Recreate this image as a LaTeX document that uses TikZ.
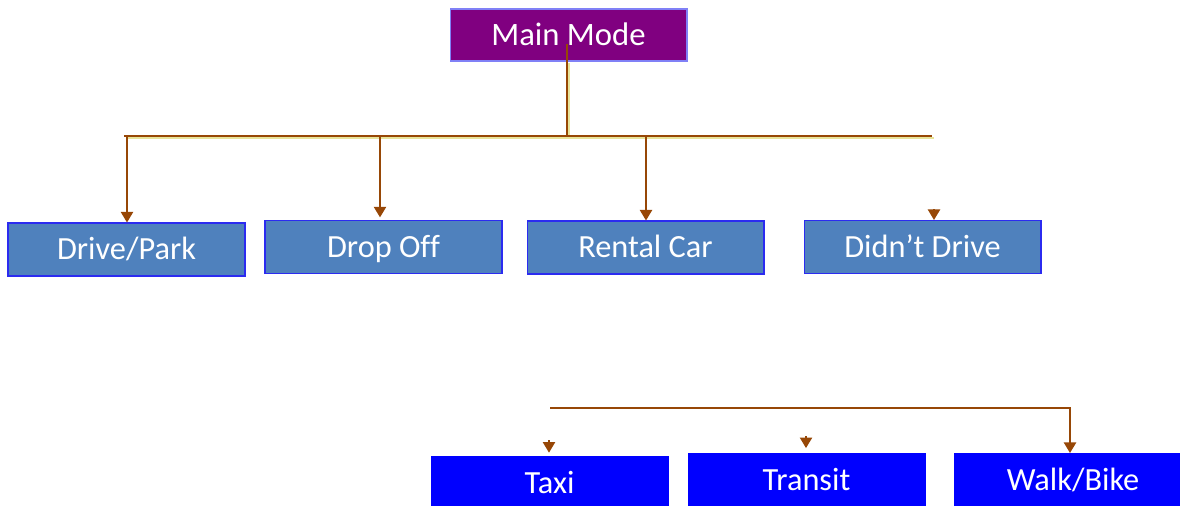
\documentclass[tikz,border=0pt]{standalone}
\usepackage{fontspec}
\setmainfont{Carlito}[Ligatures=NoCommon]
\usetikzlibrary{arrows.meta}
\definecolor{modepurple}{HTML}{800080}
\definecolor{modeblue}{HTML}{4F81BD}
\definecolor{modebright}{HTML}{0000FF}
\definecolor{modeedge}{HTML}{2B2BF0}
\definecolor{linkbrown}{HTML}{974706}
\definecolor{linkglow}{HTML}{E8E49A}

\begin{document}
\begin{tikzpicture}[x=0.02cm,y=-0.02cm,
    box/.style={rectangle,draw=modeedge,line width=0.6pt,text=white,
      minimum width=4.74cm,minimum height=1.06cm,inner sep=0pt,
      text height=11.8pt,text depth=0pt,
      font=\fontsize{18.4}{21}\selectfont},
    link/.style={draw=linkbrown,line width=0.8pt},
    linkarrow/.style={link,-{Triangle[length=6pt,width=7pt]}},
    glowline/.style={draw=linkglow,line width=1.4pt,
      transform canvas={xshift=1pt,yshift=-1pt}}]

  \useasboundingbox (0,0) rectangle (1180,505);

  % ---- Top node ---------------------------------------------
  \node[box,fill=modepurple,draw=modeedge!60,minimum height=1.04cm,
    font=\fontsize{18.6}{21}\selectfont] (main) at (568.5,35) {Main Mode};

  % ---- First level --------------------------------------------
  \node[box,fill=modeblue] (drive)  at (126.5,249.5) {Drive/Park};
  \node[box,fill=modeblue] (drop)   at (383.5,247)   {Drop Off};
  \node[box,fill=modeblue] (rental) at (645.5,247.5) {Rental Car};
  \node[box,fill=modeblue] (didnt)  at (922.5,247)   {Didn’t Drive};

  % ---- Second level -------------------------------------------
  \node[box,fill=modebright,draw=modebright] (taxi)    at (549.5,483.5) {Taxi};
  \node[box,fill=modebright,draw=modebright] (transit) at (806.5,480)   {Transit};
  \node[box,fill=modebright,draw=modebright] (walk)    at (1073,480)    {Walk/Bike};

  % ---- Bar under the top node ---------------------------------
  \coordinate (stem)  at (567,44);
  \coordinate (barL)  at (124,136);
  \coordinate (barR)  at (932,136);
  \coordinate (b1)    at (127,136);
  \coordinate (b2)    at (380,136);
  \coordinate (b3)    at (646,136);
  \coordinate (t4)    at (934,209);

  \draw[glowline] (stem |- main.south) -- (stem |- barL);
  \draw[glowline] (barL) -- (barR);
  \draw[link] (stem) -- (stem |- barL);
  \draw[link] (barL) -- (barR);

  \draw[linkarrow] (b1) -- (b1 |- drive.north);
  \draw[linkarrow,shorten >=1.5pt] (b2) -- (b2 |- drop.north);
  \draw[linkarrow] (b3) -- (b3 |- rental.north);
  \draw[linkarrow] (t4) -- (t4 |- didnt.north);

  % ---- Bar over the second level ------------------------------
  \coordinate (c1) at (550,408);
  \coordinate (c3) at (1070,408);
  \coordinate (t5) at (549,440);
  \coordinate (t6) at (806,436);

  \draw[linkarrow] (c1) -- (c3) -- (c3 |- walk.north);
  \draw[linkarrow,shorten >=2.2pt] (t5) -- (t5 |- taxi.north);
  \draw[linkarrow,shorten >=2.8pt] (t6) -- (t6 |- transit.north);

\end{tikzpicture}
\end{document}
